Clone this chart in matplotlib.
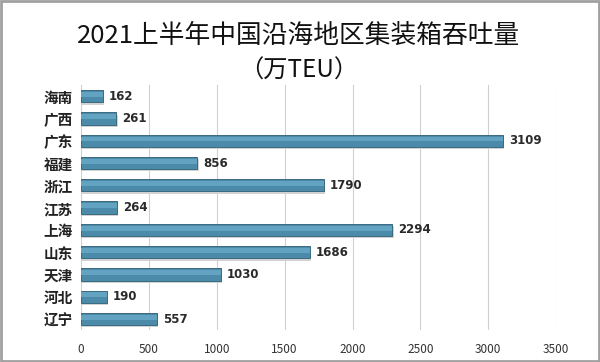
import matplotlib
matplotlib.use("Agg")
import matplotlib.pyplot as plt
from matplotlib.patches import Rectangle

plt.rcParams['font.family'] = ['Noto Sans CJK SC', 'DejaVu Sans']

regions = ['海南', '广西', '广东', '福建', '浙江', '江苏', '上海', '山东', '天津', '河北', '辽宁']
values = [162, 261, 3109, 856, 1790, 264, 2294, 1686, 1030, 190, 557]
xticks = [0, 500, 1000, 1500, 2000, 2500, 3000, 3500]

fig = plt.figure(figsize=(6, 3.62), dpi=100)
fig.patch.set_facecolor('white')
ax = fig.add_axes([0.135, 0.088, 0.792, 0.677])

ypos = list(range(len(regions)))
# shadow
ax.barh([y + 0.1 for y in ypos], values, height=0.55, left=10, color='#d2d2d2', zorder=2)
ax.barh(ypos, values, height=0.55, color='#4b8aa8', edgecolor='#3a6a80', linewidth=0.7, zorder=3)
ax.barh([y - 0.08 for y in ypos], values, height=0.22, color='#62a3c1', linewidth=0, zorder=4)

for y, v in zip(ypos, values):
    ax.text(v + 45, y, str(v), va='center', ha='left', fontsize=8.5, fontweight='bold',
            family=['DejaVu Sans'], color='#2a2a2a')

ax.set_xlim(0, 3500)
ax.set_ylim(len(regions) - 0.5, -0.5)
ax.set_xticks(xticks)
ax.set_xticklabels([str(t) for t in xticks], fontsize=8.5, color='#333333')
ax.set_yticks(ypos)
ax.set_yticklabels(regions, fontsize=10.5, fontweight='bold', color='#222222')
ax.tick_params(length=0, pad=6)
ax.tick_params(axis='x', pad=9)
ax.grid(axis='x', color='#d0d0d0', linewidth=0.8, zorder=0)
for s in ax.spines.values():
    s.set_visible(False)

fig.text(0.497, 0.902, '2021上半年中国沿海地区集装箱吞吐量', ha='center', va='center', fontsize=18.5,
         color='#111111')
fig.text(0.497, 0.805, '（万TEU）', ha='center', va='center', fontsize=17.5, color='#111111')

fig.patches.append(Rectangle((0.002, 0.003), 0.996, 0.994, transform=fig.transFigure,
                             fill=False, edgecolor='#a0a0a0', linewidth=2))

fig.savefig('out.png', dpi=100)
